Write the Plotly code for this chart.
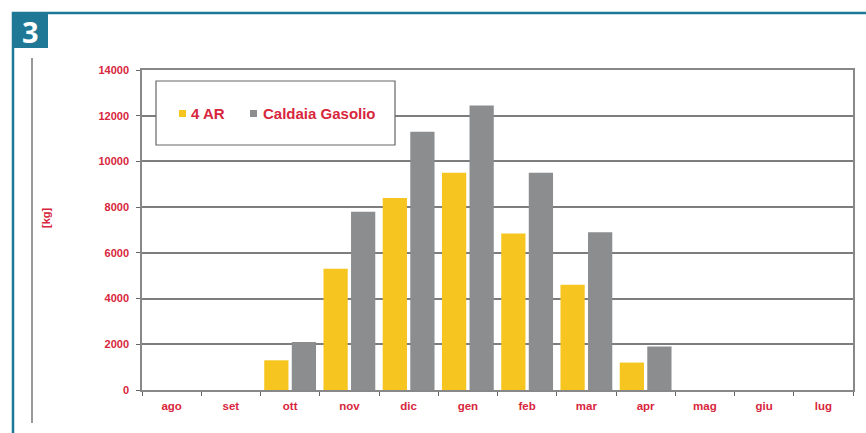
import plotly.graph_objects as go

months = ["ago", "set", "ott", "nov", "dic", "gen", "feb", "mar", "apr", "mag", "giu", "lug"]
series_4ar = [0, 0, 1300, 5300, 8400, 9500, 6850, 4600, 1200, 0, 0, 0]
series_caldaia = [0, 0, 2100, 7800, 11300, 12450, 9500, 6900, 1900, 0, 0, 0]
series_names = ["4 AR", "Caldaia Gasolio"]
y_ticks = [0, 2000, 4000, 6000, 8000, 10000, 12000, 14000]

YELLOW = "#F6C520"
GRAY = "#8B8D8F"
RED = "#D7263D"
BLUE = "#1f7896"
FONT = "Liberation Sans"

W, H = 866, 433
L, R, T, B = 142, 853, 70, 390


def px(x):
    return (x - L) / (R - L)


def py(y):
    return (B - y) / (B - T)


fig = go.Figure()
fig.add_bar(x=months, y=series_4ar, name=series_names[0], marker_color=YELLOW,
            marker_line_width=0, showlegend=False)
fig.add_bar(x=months, y=series_caldaia, name=series_names[1], marker_color=GRAY,
            marker_line_width=0, showlegend=False)

shapes = [
    # blue frame
    dict(type="line", xref="paper", yref="paper", x0=px(12), x1=px(870), y0=py(13), y1=py(13),
         line=dict(color=BLUE, width=2.5)),
    dict(type="line", xref="paper", yref="paper", x0=px(13), x1=px(13), y0=py(12), y1=py(440),
         line=dict(color=BLUE, width=2.5)),
    dict(type="rect", xref="paper", yref="paper", x0=px(12), x1=px(48), y0=py(12), y1=py(48),
         fillcolor=BLUE, line_width=0),
    # inner grey line
    dict(type="line", xref="paper", yref="paper", x0=px(32), x1=px(32), y0=py(58), y1=py(423),
         line=dict(color="#777777", width=1.5)),
    # legend box
    dict(type="rect", xref="paper", yref="paper", x0=px(156), x1=px(395), y0=py(81), y1=py(145),
         fillcolor="white", line=dict(color="#666666", width=1.2), layer="above"),
    dict(type="rect", xref="paper", yref="paper", x0=px(179), x1=px(186), y0=py(110), y1=py(117),
         fillcolor=YELLOW, line_width=0, layer="above"),
    dict(type="rect", xref="paper", yref="paper", x0=px(250), x1=px(257), y0=py(110), y1=py(117),
         fillcolor=GRAY, line_width=0, layer="above"),
]

annotations = [
    dict(text="<b>3</b>", xref="paper", yref="paper", x=px(30), y=py(31), showarrow=False,
         font=dict(family="Open Sans", size=29, color="white"), xanchor="center", yanchor="middle"),
    dict(text="<b>[kg]</b>", xref="paper", yref="paper", x=px(46), y=py(218), showarrow=False,
         textangle=-90, font=dict(family=FONT, size=11, color=RED), xanchor="center", yanchor="middle"),
    dict(text="<b>" + series_names[0] + "</b>", xref="paper", yref="paper", x=px(189), y=py(114),
         showarrow=False, font=dict(family=FONT, size=15, color=RED), xanchor="left", yanchor="middle"),
    dict(text="<b>" + series_names[1] + "</b>", xref="paper", yref="paper", x=px(261), y=py(114),
         showarrow=False, font=dict(family=FONT, size=15, color=RED), xanchor="left", yanchor="middle"),
]

fig.update_layout(
    width=W, height=H,
    margin=dict(l=L, r=W - R, t=T, b=H - B, pad=0),
    paper_bgcolor="white", plot_bgcolor="white",
    barmode="group", bargap=0.07, bargroupgap=0.12,
    shapes=shapes, annotations=annotations,
    font=dict(family=FONT),
)
fig.update_xaxes(
    showline=True, linecolor="#888888", linewidth=1.5, mirror=True,
    ticks="outside", ticklen=4, tickcolor="#666666", tickson="boundaries",
    ticklabelstandoff=4,
    tickfont=dict(family=FONT, size=11.5, color=RED),
    tickvals=months, ticktext=["<b>" + m + "</b>" for m in months],
    showgrid=False,
)
fig.update_yaxes(
    range=[0, 14000], tickvals=y_ticks, ticktext=["<b>%d</b>" % v for v in y_ticks],
    showline=True, linecolor="#888888", linewidth=1.5, mirror=True,
    ticks="outside", ticklen=4, tickcolor="#666666", ticklabelstandoff=5,
    tickfont=dict(family=FONT, size=11, color=RED),
    showgrid=True, gridcolor="#7d7d7d", gridwidth=1.5, zeroline=False,
)

fig.write_html("out.html")
